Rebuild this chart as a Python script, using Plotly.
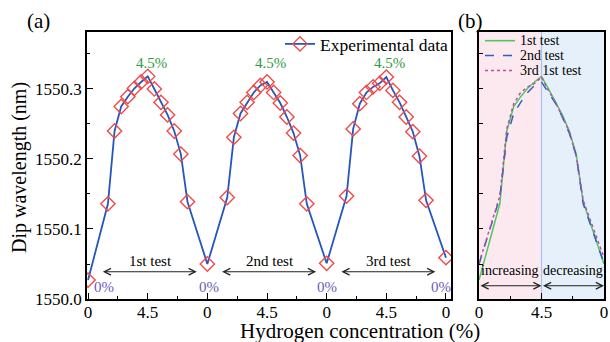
import plotly.graph_objects as go

# ---------------- data ----------------
conc_up = [0, 1.5, 2.0, 2.5, 3.0, 3.5, 4.0, 4.5]
conc_down = [4.0, 3.5, 3.0, 2.5, 2.0, 1.5, 0]

test1_up = [1550.027, 1550.136, 1550.240, 1550.275, 1550.289, 1550.301, 1550.310, 1550.318]
test1_down = [1550.300, 1550.281, 1550.263, 1550.240, 1550.207, 1550.139, 1550.050]
test2_up = [1550.050, 1550.145, 1550.231, 1550.265, 1550.281, 1550.295, 1550.305, 1550.310]
test2_down = [1550.295, 1550.280, 1550.260, 1550.237, 1550.205, 1550.136, 1550.051]
test3_up = [1550.051, 1550.147, 1550.243, 1550.279, 1550.295, 1550.303, 1550.308, 1550.317]
test3_down = [1550.298, 1550.281, 1550.260, 1550.239, 1550.204, 1550.141, 1550.059]

ups = [test1_up, test2_up, test3_up]
downs = [test1_down, test2_down, test3_down]
test_labels = ["1st test", "2nd test", "3rd test"]
legend_b_names = ["1st test", "2nd test", "3rd 1st test"]
tick_labels_a = ["0", "4.5", "0", "4.5", "0", "4.5", "0"]
tick_labels_b = ["0", "4.5", "0"]
peak_label = "4.5%"
zero_label = "0%"
phase_labels = ["increasing", "decreasing"]

SPAN = 9.0  # one test: 0 -> 4.5 -> 0


def seg_positions(t, skip_first=False):
    xs, ys = [], []
    for i, (c, v) in enumerate(zip(conc_up, ups[t])):
        if skip_first and i == 0:
            continue
        xs.append(SPAN * t + c)
        ys.append(v)
    for c, v in zip(conc_down, downs[t]):
        xs.append(SPAN * t + SPAN - c)
        ys.append(v)
    return xs, ys


xa, ya = [], []
for t in range(3):
    xs, ys = seg_positions(t, skip_first=(t > 0))
    xa += xs
    ya += ys

W, H = 610, 342
def px(x):
    return x / W
def py(y):
    return 1 - y / H

FONT = "Liberation Serif"
RED = "#ef4b48"
BLUE = "#2456bf"
GREEN_TXT = "#2e9b45"
PURPLE = "#6b5bbd"

fig = go.Figure()

fig.add_trace(go.Scatter(
    x=xa, y=ya, mode="lines+markers", name="Experimental data",
    line=dict(color=BLUE, width=1.8),
    marker=dict(symbol="diamond-open", size=11, color=RED, line=dict(width=1.4, color=RED)),
    xaxis="x", yaxis="y", showlegend=True,
))

b_colors = ["#4fc95a", "#2f5fc0", "#c24aa8"]
b_dash = ["solid", "dash", "dot"]
for t in range(3):
    xs, ys = seg_positions(t)
    xs = [x - SPAN * t for x in xs]
    fig.add_trace(go.Scatter(
        x=xs, y=ys, mode="lines", name=legend_b_names[t],
        line=dict(color=b_colors[t], width=1.5, dash=b_dash[t]),
        xaxis="x2", yaxis="y2", showlegend=False,
    ))

ylo, yhi = 1550.0, 1550.3814
tickfont = dict(family=FONT, size=17, color="black")

fig.update_layout(
    width=W, height=H, margin=dict(l=0, r=0, t=0, b=0, autoexpand=False),
    paper_bgcolor="white", plot_bgcolor="rgba(0,0,0,0)",
    font=dict(family=FONT, color="black"),
    xaxis=dict(domain=[px(87), px(451)], range=[-0.08, 27.38], automargin=False,
               tickmode="array", tickvals=[4.5 * i for i in range(7)], ticktext=tick_labels_a,
               ticks="inside", ticklen=6, tickwidth=1.2, tickcolor="black",
               ticklabelstandoff=-3,
               minor=dict(tickmode="array", tickvals=[2.25 + 4.5 * i for i in range(6)],
                          ticks="inside", ticklen=3.5, tickwidth=1.2, tickcolor="black"),
               showline=True, linecolor="black", linewidth=1.5, mirror=True,
               showgrid=False, zeroline=False, tickfont=tickfont, anchor="y"),
    yaxis=dict(domain=[py(299), py(32)], range=[ylo, yhi], automargin=False,
               tick0=1550.0, dtick=0.1, tickformat=".1f",
               ticks="inside", ticklen=6, tickwidth=1.2, tickcolor="black",
               minor=dict(tick0=1550.0, dtick=0.05, ticks="inside", ticklen=3.5,
                          tickwidth=1.2, tickcolor="black"),
               showline=True, linecolor="black", linewidth=1.5, mirror=True,
               showgrid=False, zeroline=False, tickfont=tickfont, anchor="x"),
    xaxis2=dict(domain=[px(479), px(604)], range=[0, 9], automargin=False,
                tickmode="array", tickvals=[0, 4.5, 9], ticktext=tick_labels_b,
                ticks="inside", ticklen=6, tickwidth=1.2, tickcolor="black",
                ticklabelstandoff=-3,
                minor=dict(tickmode="array", tickvals=[2.25, 6.75],
                           ticks="inside", ticklen=3.5, tickwidth=1.2, tickcolor="black"),
                showline=True, linecolor="black", linewidth=1.5, mirror=True,
                showgrid=False, zeroline=False, tickfont=tickfont, anchor="y2"),
    yaxis2=dict(domain=[py(299), py(32)], range=[ylo, yhi], automargin=False,
                tick0=1550.0, dtick=0.05, showticklabels=False,
                ticks="inside", ticklen=4, tickwidth=1.2, tickcolor="black",
                showline=True, linecolor="black", linewidth=1.5, mirror=True,
                showgrid=False, zeroline=False, anchor="x2"),
    legend=dict(x=px(280), y=py(44), xanchor="left", yanchor="middle",
                bgcolor="rgba(0,0,0,0)", font=dict(family=FONT, size=17.5, color="black"),
                borderwidth=0),
    showlegend=True,
)

# shaded regions in panel (b)
fig.add_shape(type="rect", xref="x2", yref="y2", x0=0, x1=4.5, y0=ylo, y1=yhi,
              fillcolor="#fce9f0", line=dict(width=0), layer="below")
fig.add_shape(type="rect", xref="x2", yref="y2", x0=4.5, x1=9, y0=ylo, y1=yhi,
              fillcolor="#e5f0fa", line=dict(width=0), layer="below")
fig.add_shape(type="line", xref="x2", yref="y2", x0=4.5, x1=4.5, y0=ylo, y1=yhi,
              line=dict(color="#a9c3e8", width=1.2), layer="below")

ann = []
def txt(text, x, y, size, color="black", xref="paper", yref="paper", xanchor="center", **kw):
    d = dict(text=text, x=x, y=y, xref=xref, yref=yref, xanchor=xanchor, yanchor="middle",
             showarrow=False, font=dict(family=FONT, size=size, color=color))
    d.update(kw)
    ann.append(d)

# manual legend for panel (b)
for t, yy in enumerate([40.7, 55.5, 70.5]):
    fig.add_shape(type="line", xref="paper", yref="paper", x0=px(485), x1=px(515),
                  y0=py(yy), y1=py(yy),
                  line=dict(color=b_colors[t], width=1.6, dash=b_dash[t]))
    txt(legend_b_names[t], px(518), py(yy), 14, xanchor="left")

# panel labels
txt("(a)", px(38), py(21), 21)
txt("(b)", px(470), py(21), 21)
# axis titles
txt("Dip wavelength (nm)", px(19), py(168), 20, textangle=-90)
txt("Hydrogen concentration (%)", px(360), py(331), 21)

for t in range(3):
    txt(peak_label, SPAN * t + 4.5 + 0.25, 1550.337, 15, GREEN_TXT, xref="x", yref="y")
    ann.append(dict(x=SPAN * t + 8.2, y=1550.039, ax=SPAN * t + 1.0, ay=1550.039,
                    xref="x", yref="y", axref="x", ayref="y", text="",
                    showarrow=True, arrowhead=5, startarrowhead=5, arrowside="end+start",
                    arrowsize=1.2, startarrowsize=1.2, arrowwidth=1.1, arrowcolor="#222"))
    txt(test_labels[t], SPAN * t + 4.7, 1550.054, 15, xref="x", yref="y")
for xz in [1.2, 9.1, 18.0, 26.6]:
    txt(zero_label, xz, 1550.017, 15, PURPLE, xref="x", yref="y")

for (a0, a1), lab, xc in zip([(0, 4.5), (4.5, 9)], phase_labels, [2.25, 6.75]):
    ann.append(dict(x=a1, y=1550.019, ax=a0, ay=1550.019, xref="x2", yref="y2",
                    axref="x2", ayref="y2", text="", showarrow=True, arrowhead=5,
                    startarrowhead=5, arrowside="end+start", arrowsize=1.2,
                    startarrowsize=1.2, arrowwidth=1.1, arrowcolor="#222"))
    txt(lab, xc, 1550.041, 14, xref="x2", yref="y2")

fig.update_layout(annotations=ann)
fig.write_html("out.html")
